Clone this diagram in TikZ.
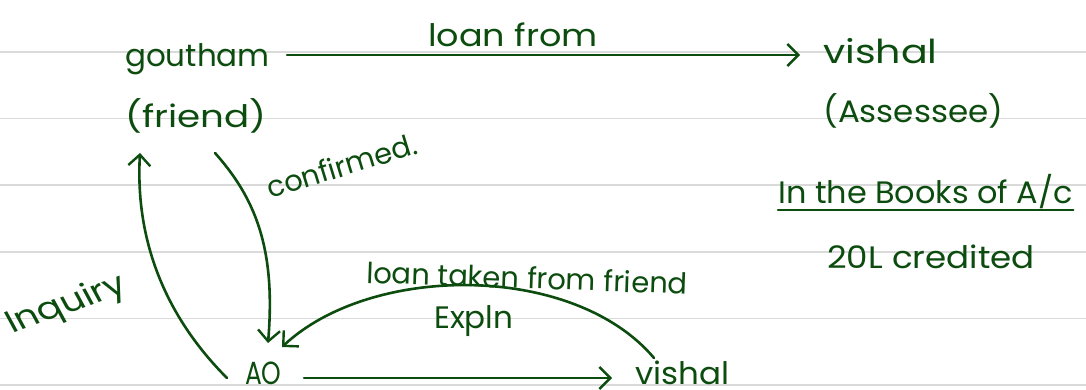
\documentclass[tikz,border=0pt]{standalone}
\usepackage{fontspec}
\setmainfont{Poppins}
\usetikzlibrary{arrows.meta}
\definecolor{ink}{RGB}{12,76,14}
\definecolor{rulegray}{RGB}{218,218,218}
\newcommand{\penpt}[1]{\fontsize{#1}{#1}\selectfont}
\begin{document}
\begin{tikzpicture}[x=1pt,y=-1pt,
  lbl/.style={text=ink, inner sep=0pt, font=\penpt{31}, anchor=base west},
  link/.style={draw=ink, line width=2.6pt, line cap=round,
    -{Straight Barb[length=11pt,width=22pt,line width=2.4pt]}},
]
% ruled paper
\fill[white] (0,0) rectangle (1086,389);
\useasboundingbox (0,0) rectangle (1086,389);
\foreach \yy in {52,118.5,185,252,318.5,385}
  \draw[rulegray, line width=1.8pt] (0,\yy) -- (1086,\yy);

% parties
\node[lbl] (goutham) at (125,66) {goutham};
\node[lbl, xscale=1.2] (friend) at (125,127) {(friend)};
\node[lbl, font=\penpt{33}, xscale=1.2] (vishalA) at (823,63) {vishal};
\node[lbl, xscale=1.05] (assessee) at (823,122) {(Assessee)};
\node[lbl, font=\penpt{32}, xscale=0.78] (ao) at (245,384) {AO};
\node[lbl, xscale=1.05] (vishalB) at (635,384) {vishal};

% notes on the right
\node[lbl, xscale=1.03] (books) at (778,203) {In the Books of A/c};
\draw[ink, line width=2.6pt, line cap=round]
  ([yshift=-7pt]books.base west) -- ([yshift=-7pt]books.base east);
\node[lbl, xscale=1.1] (credit) at (827,268) {20L credited};

% edge labels
\node[lbl, xscale=1.13] (loanfrom) at (428,46) {loan from};
\node[lbl, font=\penpt{29}, rotate=17] (confirmed) at (270,199) {confirmed.};
\node[lbl, xscale=1.22, rotate=24] (inquiry) at (12,334) {Inquiry};
\node[lbl, font=\penpt{29}, rotate=-2] (loantaken) at (366,283) {loan taken from friend};
\node[lbl] (expln) at (434,328) {Expln};

% connectors
\coordinate (loanstart) at ([shift={(17,-11)}]goutham.base east);
\coordinate (loanend) at (vishalA.west |- loanstart);
\draw[link] (loanstart) -- ([xshift=-23pt]loanend);
\draw[link] ([shift={(90,20)}]friend.south west) .. controls +(40,45) and +(8,-95) .. ([shift={(23,-41)}]ao.base west);
\draw[link] ([shift={(-18,-6)}]ao.base west) .. controls +(-60,-60) and +(-5,90) .. ([shift={(15,20)}]friend.south west);
\draw[link] ([shift={(19,-26)}]vishalB.base west) .. controls +(-80,-95) and +(90,-84) .. ([shift={(37,-37)}]ao.base west);
\draw[link] ([shift={(59,-6)}]ao.base west) -- ([shift={(-23,-6)}]vishalB.base west);
\end{tikzpicture}
\end{document}
